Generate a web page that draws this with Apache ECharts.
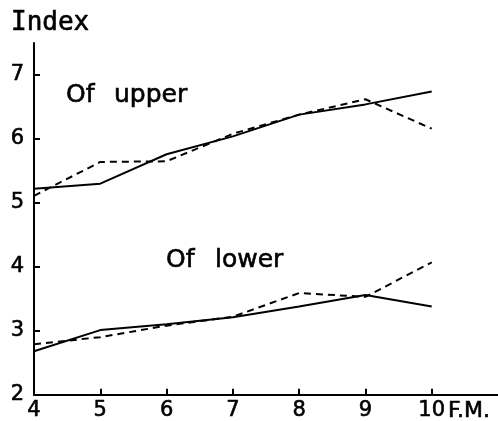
<!DOCTYPE html>
<html><head><meta charset="utf-8">
<script src="https://cdn.jsdelivr.net/npm/echarts@6/dist/echarts.min.js"></script>
<style>html,body{margin:0;padding:0;background:#fff}#c{width:498px;height:421px}</style>
</head><body><div id="c"></div>
<script>
const months = [4, 5, 6, 7, 8, 9, 10];
const upperSolid = [5.22, 5.30, 5.76, 6.04, 6.38, 6.54, 6.74];
const upperDashed = [5.11, 5.64, 5.65, 6.08, 6.38, 6.62, 6.16];
const lowerSolid = [2.68, 3.01, 3.10, 3.21, 3.38, 3.56, 3.38];
const lowerDashed = [2.79, 2.90, 3.08, 3.22, 3.59, 3.53, 4.07];
const xTicks = [4, 5, 6, 7, 8, 9, 10];
const yTicks = [2, 3, 4, 5, 6, 7];

const pair = arr => months.map((m, i) => [m, arr[i]]);
const font = 'DejaVu Sans';
const chart = echarts.init(document.getElementById('c'));
const solid = {type: 'line', symbol: 'none', lineStyle: {color: '#000', width: 2, type: 'solid'}, animation: false};
const dashed = {type: 'line', symbol: 'none', lineStyle: {color: '#000', width: 2, type: [7, 5]}, animation: false};
const txt = (t, x, y, fs, ff) => ({type: 'text', x: x, y: y, style: {text: t, fontSize: fs, fontFamily: ff || font, fill: '#000', stroke: '#000', lineWidth: 0.6, align: 'left', verticalAlign: 'middle'}});
const lbl = {color: '#000', fontSize: 21, fontFamily: font, textBorderColor: '#000', textBorderWidth: 0.6};
chart.setOption({
  backgroundColor: '#fff',
  grid: {left: 34, right: 0, top: 43, bottom: 23},
  xAxis: {
    type: 'value', min: 4, max: 11, interval: 1,
    axisLine: {lineStyle: {color: '#000', width: 2}},
    axisTick: {inside: true, length: 6, lineStyle: {color: '#000', width: 2}, customValues: xTicks.slice(1)},
    axisLabel: Object.assign({margin: 5, customValues: xTicks}, lbl),
    splitLine: {show: false}
  },
  yAxis: {
    type: 'value', min: 2, max: 7.5, interval: 1,
    axisLine: {show: true, lineStyle: {color: '#000', width: 2}},
    axisTick: {show: true, inside: true, length: 6, lineStyle: {color: '#000', width: 2}, customValues: yTicks.slice(1)},
    axisLabel: Object.assign({margin: 10, customValues: yTicks}, lbl),
    splitLine: {show: false}
  },
  series: [
    Object.assign({data: pair(upperSolid)}, solid),
    Object.assign({data: pair(upperDashed)}, dashed),
    Object.assign({data: pair(lowerSolid)}, solid),
    Object.assign({data: pair(lowerDashed)}, dashed)
  ],
  graphic: [
    txt('Index', 11, 23, 26, 'DejaVu Sans Mono'),
    txt('Of', 66, 95.5, 25),
    txt('upper', 114, 95.5, 25),
    txt('Of', 166, 260.5, 25),
    txt('lower', 215, 260.5, 25),
    txt('F.M.', 448, 411, 22)
  ]
});
</script></body></html>
